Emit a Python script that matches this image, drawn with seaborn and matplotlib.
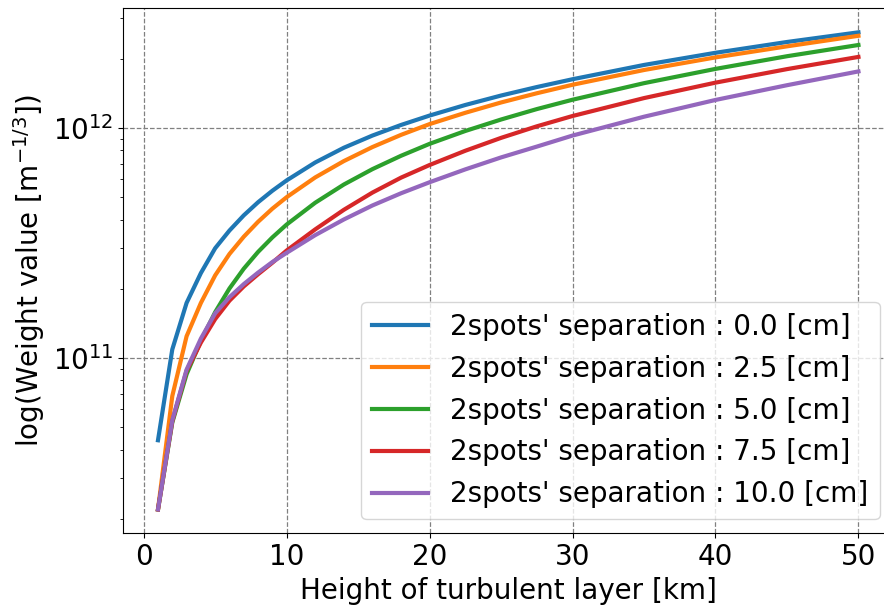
## bibliotecas
import numpy as np
import pandas as pd
import matplotlib
matplotlib.use("Agg")
import matplotlib.pyplot as plt
import seaborn as sns

## altura da camada turbulenta [km]
heights = [1, 2, 3, 4, 5, 6, 7, 8, 9, 10, 12, 14, 16, 18, 20,
           22.5, 25, 27.5, 30, 35, 40, 45, 50]

## valores do peso, um vetor por separacao
w_00 = [4.395e10, 1.091e11, 1.738e11, 2.344e11, 3.006e11, 3.589e11, 4.178e11, 4.764e11,
        5.346e11, 5.929e11, 7.096e11, 8.222e11, 9.290e11, 1.033e12, 1.135e12,
        1.262e12, 1.387e12, 1.510e12, 1.633e12, 1.884e12, 2.128e12, 2.371e12, 2.612e12]
w_25 = [2.198e10, 6.839e10, 1.245e11, 1.738e11, 2.291e11, 2.838e11, 3.373e11, 3.917e11,
        4.467e11, 5.012e11, 6.109e11, 7.194e11, 8.279e11, 9.354e11, 1.042e12,
        1.167e12, 1.294e12, 1.419e12, 1.545e12, 1.791e12, 2.032e12, 2.270e12, 2.523e12]
w_50 = [2.198e10, 5.248e10, 8.511e10, 1.189e11, 1.585e11, 2.009e11, 2.449e11, 2.897e11,
        3.350e11, 3.811e11, 4.742e11, 5.689e11, 6.637e11, 7.586e11, 8.551e11,
        9.727e11, 1.091e12, 1.211e12, 1.330e12, 1.570e12, 1.811e12, 2.056e12, 2.301e12]
w_75 = [2.198e10, 5.321e10, 8.810e10, 1.169e11, 1.479e11, 1.778e11, 2.051e11, 2.317e11,
        2.600e11, 2.938e11, 3.631e11, 4.416e11, 5.248e11, 6.095e11, 6.918e11,
        7.980e11, 9.078e11, 1.019e12, 1.130e12, 1.352e12, 1.578e12, 1.807e12, 2.042e12]
w_100 = [2.198e10, 5.370e10, 8.913e10, 1.216e11, 1.567e11, 1.841e11, 2.099e11, 2.355e11,
         2.618e11, 2.871e11, 3.428e11, 4.009e11, 4.613e11, 5.212e11, 5.821e11,
         6.622e11, 7.464e11, 8.318e11, 9.290e11, 1.122e12, 1.327e12, 1.538e12, 1.766e12]

separations = [0.0, 2.5, 5.0, 7.5, 10.0]
series = [w_00, w_25, w_50, w_75, w_100]
cores = sns.color_palette("tab10", 5)

## figura
fig = plt.figure(figsize=(8.84, 6.05), dpi=100)
ax = fig.add_axes([0.1391, 0.1185, 0.8716, 0.8675])

for sep, vals, cor in zip(separations, series, cores):
    sns.lineplot(x=heights, y=vals, ax=ax, color=cor, linewidth=3,
                 label=f"2spots' separation : {sep:.1f} [cm]")

ax.set_yscale("log")
ax.grid(True, linestyle="--", color="gray", linewidth=0.9)
ax.set_xticks([0, 10, 20, 30, 40, 50])
ax.tick_params(axis="both", which="major", labelsize=20)

## rotulos dos eixos
ax.set_xlabel("Height of turbulent layer [km]", fontsize=20)
ax.set_ylabel("log(Weight value [m$^{-1/3}$])", fontsize=20)

ax.legend(loc="lower right", fontsize=20)

plt.savefig("out.png", dpi=100)
plt.close()
